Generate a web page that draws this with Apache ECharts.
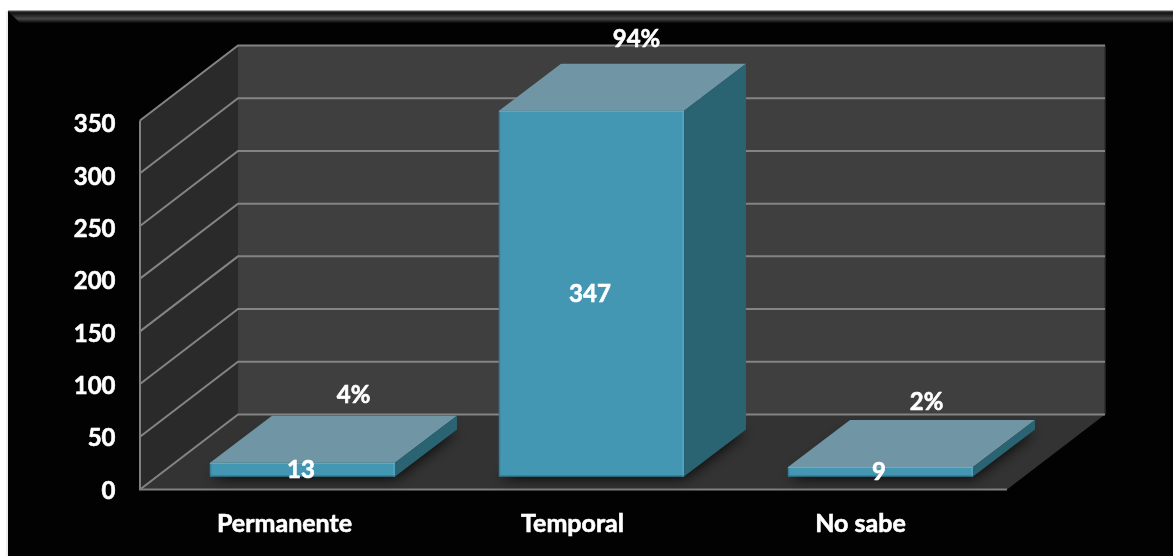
<!DOCTYPE html>
<html><head><meta charset="utf-8">
<style>html,body{margin:0;padding:0;background:#fff}#c{width:1173px;height:556px}</style>
<script src="https://cdn.jsdelivr.net/npm/echarts@6/dist/echarts.min.js"></script>
</head><body><div id="c"></div>
<script>
const categories = ['Permanente', 'Temporal', 'No sabe'];
const values = [13, 347, 9];
const percents = ['4%', '94%', '2%'];
const yTicks = [0, 50, 100, 150, 200, 250, 300, 350];

// projection and style constants
const WALL_DX = 98, WALL_DY = -75;
const BAR_DX = 62, BAR_DY = -47, BAR_FRACTION = 0.64;
const BAR_SHIFT_X = 18, BAR_SHIFT_Y = -13;
const PCT_NUDGE = [[-11, -21], [-17, -24], [-16, -18]];
const FONT = 'Lato, "Open Sans", sans-serif';

const chart = echarts.init(document.getElementById('c'));

function wallsItem(params, api) {
  const g = params.coordSys;
  const l = g.x, r = g.x + g.width, t = g.y, b = g.y + g.height;
  const poly = (pts, fill) => ({type: 'polygon', shape: {points: pts}, style: {fill}});
  const dx = WALL_DX, dy = WALL_DY;
  return {type: 'group', children: [
    poly([[l + dx, t + dy], [r + dx, t + dy], [r + dx, b + dy], [l + dx, b + dy]], '#3f3f3f'),
    poly([[l, t], [l + dx, t + dy], [l + dx, b + dy], [l, b]], '#2a2a2a'),
    poly([[l, b], [l + dx, b + dy], [r + dx, b + dy], [r, b]], '#333333'),
    {type: 'line', shape: {x1: r + dx, y1: t + dy, x2: r + dx, y2: b + dy}, style: {stroke: '#2c2c2c', lineWidth: 1.5}}
  ]};
}
function gridItem(params, api) {
  const g = params.coordSys;
  const y = api.coord([0, api.value(0)])[1];
  const l = g.x, r = g.x + g.width;
  return {type: 'polyline', shape: {points: [[l, y], [l + WALL_DX, y + WALL_DY], [r + WALL_DX, y + WALL_DY]]},
    style: {stroke: '#848484', lineWidth: 2, fill: null}};
}
function frontAxisItem(params, api) {
  const g = params.coordSys;
  const l = g.x, r = g.x + g.width, t = g.y, b = g.y + g.height;
  return {type: 'polyline', shape: {points: [[l, t], [l, b], [r, b]]}, style: {stroke: '#808080', lineWidth: 2, fill: null}};
}
function barItem(params, api) {
  const i = api.value(0), v = api.value(1);
  const c = api.coord([i, v]), c0 = api.coord([i, 0]);
  const hw = api.size([1, 0])[0] * BAR_FRACTION / 2;
  const x0 = c[0] + BAR_SHIFT_X - hw, x1 = c[0] + BAR_SHIFT_X + hw;
  const yb = c0[1] + BAR_SHIFT_Y, yt = c[1] + BAR_SHIFT_Y;
  const dx = BAR_DX, dy = BAR_DY;
  const n = PCT_NUDGE[i];
  const label = (text, x, y) => ({type: 'text', z2: 20, style: {text, x, y, fill: '#fff', stroke: '#fff', lineWidth: 0.6, font: 'bold 24px ' + FONT, align: 'center', verticalAlign: 'middle'}});
  return {type: 'group', children: [
    {type: 'polygon', shape: {points: [[x0, yb], [x1, yb], [x1 + dx, yb + dy], [x0 + dx, yb + dy]]},
      style: {fill: '#2a2a2a', shadowBlur: 14, shadowColor: 'rgba(0,0,0,0.85)', shadowOffsetX: 0, shadowOffsetY: 2}},
    {type: 'polygon', shape: {points: [[x0, yt], [x1, yt], [x1 + dx, yt + dy], [x0 + dx, yt + dy]]}, style: {fill: '#7096a6'}},
    {type: 'polygon', shape: {points: [[x1, yt], [x1 + dx, yt + dy], [x1 + dx, yb + dy], [x1, yb]]}, style: {fill: '#2a6472'}},
    {type: 'rect', shape: {x: x0, y: yt, width: x1 - x0, height: yb - yt}, style: {fill: '#4397b3'}},
    {type: 'line', shape: {x1: x0 + 0.5, y1: yt, x2: x0 + 0.5, y2: yb}, style: {stroke: '#357e98', lineWidth: 1.5}},
    {type: 'line', shape: {x1: x1 - 1, y1: yt, x2: x1 - 1, y2: yb}, style: {stroke: '#4da3bd', lineWidth: 2}},
    {type: 'line', shape: {x1: x0, y1: yt + 0.5, x2: x1, y2: yt + 0.5}, style: {stroke: '#6faec2', lineWidth: 1}},
    {type: 'line', shape: {x1: x0, y1: yb - 0.5, x2: x1, y2: yb - 0.5}, style: {stroke: '#2f6f85', lineWidth: 1}},
    label(String(v), (x0 + x1) / 2 - 1.5, (yt + yb) / 2 + 1),
    label(percents[i], (x0 + x1) / 2 + dx + n[0], yt + dy + n[1])
  ]};
}

const boldLabel = {color: '#fff', fontFamily: FONT, fontWeight: 'bold', textBorderColor: '#fff', textBorderWidth: 0.6};
const hidden = {axisLine: {show: false}, axisTick: {show: false}, splitLine: {show: false}};

chart.setOption({
  animation: false,
  backgroundColor: '#ffffff',
  graphic: [
    {type: 'rect', z: -10, shape: {x: 6, y: 11, width: 2, height: 545}, style: {fill: '#ececec'}},
    {type: 'rect', z: -9, shape: {x: 8, y: 11, width: 1165, height: 545}, style: {fill: '#020202'}},
    {type: 'polygon', z: -8, shape: {points: [[8, 11], [1173, 11], [1173, 23], [20, 23]]},
      style: {fill: {type: 'linear', x: 0, y: 0, x2: 0, y2: 1, colorStops: [
        {offset: 0, color: '#2a2a2a'}, {offset: 0.2, color: '#161616'}, {offset: 0.65, color: '#474747'}, {offset: 1, color: '#050505'}]}}},
    {type: 'rect', z: -8, shape: {x: 8, y: 10.5, width: 1165, height: 1}, style: {fill: '#555555'}}
  ],
  grid: [
    {left: 140, right: 166, top: 120.5, bottom: 66.5},
    {left: 140.5, right: 168.5, top: 124.5, bottom: 65}
  ],
  xAxis: [
    Object.assign({type: 'category', gridIndex: 0, data: categories, axisLabel: {show: false}}, hidden),
    Object.assign({type: 'category', gridIndex: 1, data: categories,
      axisLabel: Object.assign({fontSize: 25, margin: 20}, boldLabel)}, hidden)
  ],
  yAxis: [
    Object.assign({type: 'value', gridIndex: 0, min: 0, max: 350, interval: 50, axisLabel: {show: false}}, hidden),
    Object.assign({type: 'value', gridIndex: 1, min: 0, max: 350, interval: 50,
      axisLabel: Object.assign({fontSize: 24, margin: 25}, boldLabel)}, hidden)
  ],
  series: [
    {type: 'custom', coordinateSystem: 'cartesian2d', xAxisIndex: 0, yAxisIndex: 0, z: 1, data: [[0]], renderItem: wallsItem, silent: true},
    {type: 'custom', coordinateSystem: 'cartesian2d', xAxisIndex: 0, yAxisIndex: 0, z: 2, data: yTicks.map(t => [t]), encode: {y: 0}, renderItem: gridItem, silent: true},
    {type: 'custom', coordinateSystem: 'cartesian2d', xAxisIndex: 0, yAxisIndex: 0, z: 3, data: [[0]], renderItem: frontAxisItem, silent: true},
    {type: 'custom', coordinateSystem: 'cartesian2d', xAxisIndex: 0, yAxisIndex: 0, z: 4, data: values.map((v, i) => [i, v]), encode: {x: 0, y: 1}, renderItem: barItem, silent: true}
  ]
});
</script></body></html>
